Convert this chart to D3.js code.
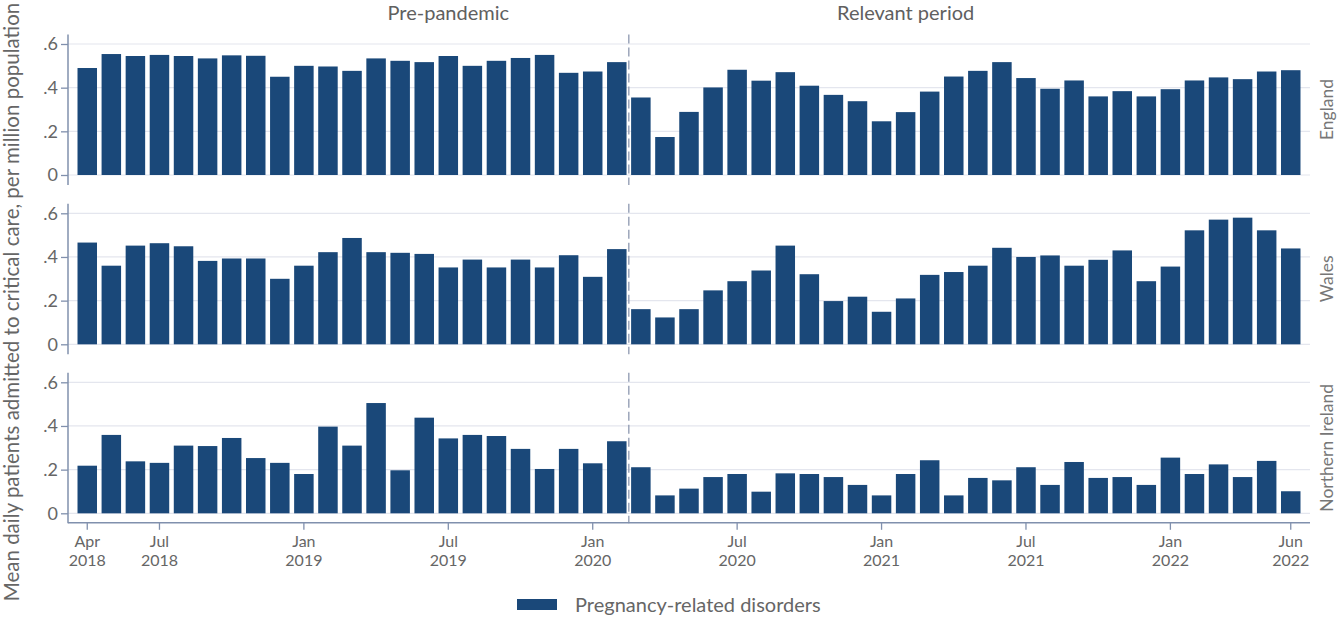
<!DOCTYPE html>
<html>
<head>
<meta charset="utf-8">
<script src="https://cdn.jsdelivr.net/npm/d3@7"></script>
<style>
  html, body { margin: 0; padding: 0; background: #fff; }
  svg { display: block; font-family: Lato, "Open Sans", sans-serif; }
</style>
</head>
<body>
<svg id="chart" width="1338" height="617"></svg>
<script>
// Monthly series, Apr 2018 – Jun 2022
const months = [
  "2018-04","2018-05","2018-06","2018-07","2018-08","2018-09","2018-10","2018-11","2018-12",
  "2019-01","2019-02","2019-03","2019-04","2019-05","2019-06","2019-07","2019-08","2019-09",
  "2019-10","2019-11","2019-12","2020-01","2020-02","2020-03","2020-04","2020-05","2020-06",
  "2020-07","2020-08","2020-09","2020-10","2020-11","2020-12","2021-01","2021-02","2021-03",
  "2021-04","2021-05","2021-06","2021-07","2021-08","2021-09","2021-10","2021-11","2021-12",
  "2022-01","2022-02","2022-03","2022-04","2022-05","2022-06"
];

const england = [
  0.490,0.554,0.545,0.550,0.545,0.534,0.548,0.546,0.450,
  0.500,0.497,0.477,0.534,0.523,0.517,0.545,0.500,0.523,
  0.536,0.550,0.468,0.474,0.517,0.355,0.174,0.289,
  0.401,0.482,0.432,0.471,0.409,0.367,0.338,0.246,0.288,
  0.382,0.451,0.477,0.517,0.444,0.395,0.433,0.360,0.384,
  0.360,0.393,0.433,0.447,0.439,0.474,0.480
];

const wales = [
  0.466,0.360,0.452,0.463,0.449,0.382,0.393,0.393,0.300,
  0.360,0.422,0.487,0.422,0.419,0.414,0.352,0.388,0.352,
  0.388,0.352,0.408,0.309,0.436,0.161,0.123,0.161,
  0.247,0.289,0.338,0.452,0.321,0.198,0.218,0.149,0.210,
  0.318,0.331,0.360,0.442,0.400,0.407,0.360,0.387,0.430,
  0.289,0.356,0.522,0.571,0.580,0.522,0.439
];

const northernIreland = [
  0.218,0.359,0.238,0.231,0.310,0.308,0.345,0.253,0.231,
  0.180,0.397,0.310,0.505,0.197,0.438,0.343,0.359,0.354,
  0.295,0.203,0.295,0.229,0.330,0.211,0.082,0.113,
  0.166,0.180,0.099,0.183,0.180,0.166,0.130,0.082,0.180,
  0.243,0.082,0.162,0.151,0.211,0.130,0.235,0.162,0.166,
  0.130,0.255,0.180,0.224,0.166,0.240,0.101
];

const nations = ["England", "Wales", "Northern Ireland"];
const seriesByNation = [england, wales, northernIreland];

const yTicks = [0, 0.2, 0.4, 0.6];
const yTickLabels = ["0", ".2", ".4", ".6"];

const xTickMonths = ["2018-04","2018-07","2019-01","2019-07","2020-01","2020-07","2021-01","2021-07","2022-01","2022-06"];
const xTickMonthNames = ["Apr","Jul","Jan","Jul","Jan","Jul","Jan","Jul","Jan","Jun"];
const xTickYears = ["2018","2018","2019","2019","2020","2020","2021","2021","2022","2022"];

const periods = ["Pre-pandemic", "Relevant period"];
const periodLabelMonths = ["2019-07", "2021-02"];
const periodSplit = "2020-03";   // first month of the relevant period

const seriesName = "Pregnancy-related disorders";
const yTitle = "Mean daily patients admitted to critical care, per million population";

// ---- layout ----
const barColor = "#1a4879";
const textColor = "#666666";
const axisColor = "#8090ad";
const gridColor = "#e4e6ee";

const svg = d3.select("#chart");
const left = 68, right = 1310;
const panelZero = [175, 344.3, 513.3];
const panelHeight = 131;

const x = d3.scaleBand()
  .domain(months)
  .range([left, right])
  .paddingInner(0.19)
  .paddingOuter(0.395);

const splitX = (x(months[months.indexOf(periodSplit) - 1]) + x.bandwidth() + x(periodSplit)) / 2;

nations.forEach((name, i) => {
  const values = seriesByNation[i];
  const y0 = panelZero[i];
  const y = d3.scaleLinear().domain([0, 0.6]).range([y0, y0 - panelHeight]);
  const g = svg.append("g");

  // gridlines
  g.selectAll("line.grid").data(yTicks).join("line")
    .attr("x1", left).attr("x2", right)
    .attr("y1", d => y(d)).attr("y2", d => y(d))
    .attr("stroke", gridColor).attr("stroke-width", 1.2);

  // bars
  g.selectAll("rect.bar").data(values).join("rect")
    .attr("class", "bar")
    .attr("x", (d, j) => x(months[j]))
    .attr("width", x.bandwidth())
    .attr("y", d => y(d))
    .attr("height", d => y(0) - y(d))
    .attr("fill", barColor);

  // y axis
  const axis = d3.axisLeft(y).tickValues(yTicks)
    .tickFormat((d, k) => yTickLabels[k]).tickSize(7).tickPadding(3);
  const ag = g.append("g").attr("transform", `translate(${left},0)`).call(axis);
  ag.select(".domain").remove();
  ag.selectAll(".tick line").attr("stroke", axisColor).attr("stroke-width", 1.3);
  ag.selectAll(".tick text").attr("fill", textColor)
    .style("font-size", "18px").style("font-family", "Lato, 'Open Sans', sans-serif");
  g.append("line")
    .attr("x1", left).attr("x2", left)
    .attr("y1", y(0.6) - 9.5).attr("y2", y(0) + 10)
    .attr("stroke", axisColor).attr("stroke-width", 1.5);

  // period divider
  g.append("line")
    .attr("x1", splitX).attr("x2", splitX)
    .attr("y1", y(0.6) - 9.5).attr("y2", y(0) + 10)
    .attr("stroke", "#8d98b0").attr("stroke-width", 1.3)
    .attr("stroke-dasharray", "9,4");

  // strip label
  g.append("text")
    .attr("transform", `translate(1333,${y(0.3)}) rotate(-90)`)
    .attr("text-anchor", "middle")
    .attr("fill", "#777")
    .style("font-size", "17.5px")
    .text(name);

  // x axis on bottom panel
  if (i === nations.length - 1) {
    const axisY = y(0) + 9.5;
    g.append("line")
      .attr("x1", left).attr("x2", right)
      .attr("y1", axisY).attr("y2", axisY)
      .attr("stroke", axisColor).attr("stroke-width", 1.5);
    const tg = g.selectAll("g.xt").data(xTickMonths).join("g")
      .attr("transform", d => `translate(${x(d) + x.bandwidth() / 2},${axisY})`);
    tg.append("line").attr("y2", 7).attr("stroke", axisColor).attr("stroke-width", 1.3);
    tg.append("text")
      .attr("text-anchor", "middle").attr("fill", textColor)
      .attr("y", 24).style("font-size", "16px")
      .text((d, k) => xTickMonthNames[k]);
    tg.append("text")
      .attr("text-anchor", "middle").attr("fill", textColor)
      .attr("y", 43.5).style("font-size", "16px")
      .text((d, k) => xTickYears[k]);
  }
});

// period headers
svg.selectAll("text.period").data(periods).join("text")
  .attr("class", "period")
  .attr("x", (d, k) => x(periodLabelMonths[k]) + x.bandwidth() / 2)
  .attr("y", 19.5)
  .attr("text-anchor", "middle")
  .attr("fill", "#606060")
  .style("font-size", "20px")
  .text(d => d);

// y axis title
svg.append("text")
  .attr("transform", "translate(19,302) rotate(-90)")
  .attr("text-anchor", "middle")
  .attr("fill", textColor)
  .style("font-size", "20.5px")
  .text(yTitle);

// legend
const lg = svg.append("g").attr("transform", "translate(517,599)");
lg.append("rect").attr("width", 40).attr("height", 11).attr("fill", barColor);
lg.append("text").attr("x", 58).attr("y", 12.5)
  .attr("fill", textColor).style("font-size", "20px")
  .text(seriesName);
</script>
</body>
</html>
